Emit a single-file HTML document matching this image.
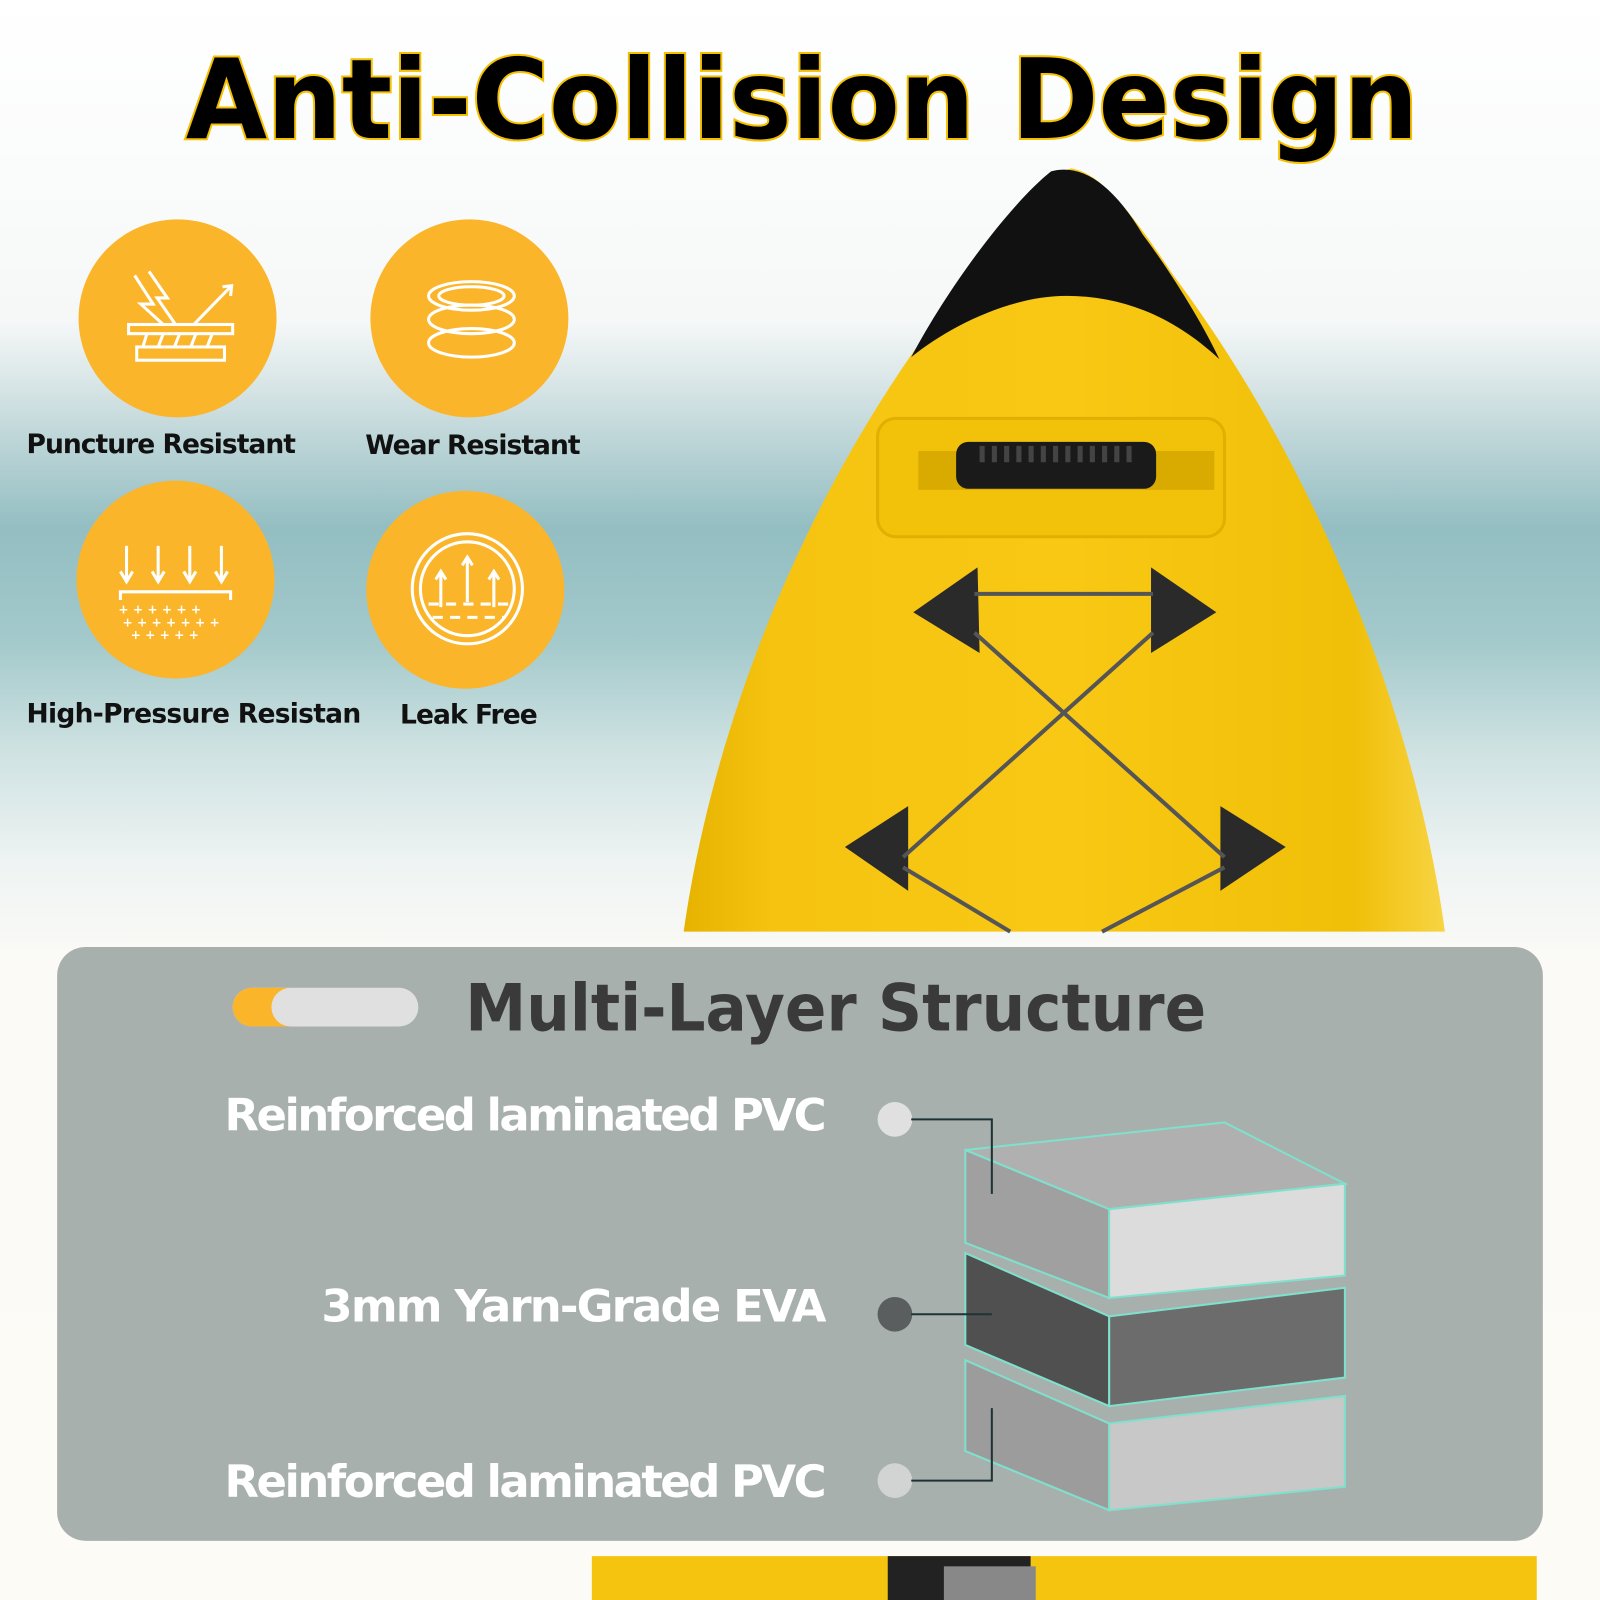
<!DOCTYPE html>
<html><head><meta charset="utf-8"><style>
html,body{margin:0;padding:0;width:1600px;height:1600px;overflow:hidden;background:#fff}
svg{display:block}
text{font-family:"DejaVu Sans","Liberation Sans",sans-serif;font-weight:bold}
</style></head><body>
<svg width="1600" height="1600" viewBox="0 0 1568 1568" xmlns="http://www.w3.org/2000/svg">
<defs>
<linearGradient id="bg" x1="0" y1="0" x2="0" y2="1">
<stop offset="0" stop-color="#ffffff"/>
<stop offset="0.20" stop-color="#f6f8f8"/>
<stop offset="0.26" stop-color="#c9dcde"/>
<stop offset="0.33" stop-color="#93bec2"/>
<stop offset="0.40" stop-color="#a3c9cb"/>
<stop offset="0.47" stop-color="#cfe2e2"/>
<stop offset="0.54" stop-color="#eef4f3"/>
<stop offset="0.60" stop-color="#fbfaf6"/>
<stop offset="1" stop-color="#fdfbf5"/>
</linearGradient>
<linearGradient id="kay" x1="0" y1="0" x2="1" y2="0">
<stop offset="0" stop-color="#e6b400"/>
<stop offset="0.12" stop-color="#f6c410"/>
<stop offset="0.5" stop-color="#f8c814"/>
<stop offset="0.88" stop-color="#f0bf08"/>
<stop offset="1" stop-color="#f7d444"/>
</linearGradient>
</defs>
<rect width="1568" height="1568" fill="url(#bg)"/>
<!-- kayak -->
<path d="M670,913 C700,700 800,450 960,260 C1000,200 1030,170 1050,165 C1080,170 1110,210 1150,270 C1300,470 1390,720 1416,913 Z" fill="url(#kay)"/>
<path d="M893,350 C930,280 990,200 1030,168 C1060,160 1090,180 1120,230 C1150,270 1180,320 1195,352 C1150,310 1100,290 1045,290 C990,290 930,320 893,350 Z" fill="#111"/>
<rect x="860" y="410" width="340" height="116" rx="18" fill="#f2c20a" stroke="#e0b000" stroke-width="3"/>
<rect x="900" y="442" width="290" height="38" fill="#d9aa00"/>
<rect x="937" y="433" width="196" height="46" rx="12" fill="#1a1a1a"/>
<path d="M960,445 L1110,445" stroke="#444" stroke-width="16" stroke-dasharray="5 7"/>
<g fill="#2a2a2a">
<path d="M895,600 L958,556 L960,640 Z"/><path d="M1192,600 L1128,556 L1128,640 Z"/>
<path d="M828,830 L890,790 L890,873 Z"/><path d="M1260,830 L1196,790 L1196,873 Z"/>
</g>
<g stroke="#555" stroke-width="4" fill="none">
<path d="M955,582 L1130,582"/><path d="M955,620 L1200,840 M1130,620 L885,840"/>
<path d="M885,850 L990,913 M1200,850 L1080,913"/>
</g>
<!-- bottom kayak -->
<rect x="580" y="1525" width="926" height="43" fill="#f4c40e"/>
<rect x="870" y="1525" width="140" height="43" fill="#222"/>
<rect x="925" y="1535" width="90" height="33" fill="#888"/>
<!-- title -->
<text x="182" y="135" textLength="1208" lengthAdjust="spacingAndGlyphs" font-size="108" fill="#000" stroke="#f4c000" stroke-width="4" paint-order="stroke">Anti-Collision Design</text>
<!-- circles -->
<g fill="#fbb52b"><circle cx="174" cy="312" r="97"/><circle cx="460" cy="312" r="97"/><circle cx="172" cy="568" r="97"/><circle cx="456" cy="578" r="97"/></g>
<g stroke="#fff" stroke-width="3" fill="none">
<rect x="126" y="318" width="102" height="9"/><rect x="134" y="340" width="86" height="13"/>
<path d="M144,327 L140,340 M160,327 L155,340 M176,327 L171,340 M192,327 L187,340 M208,327 L203,340"/>
<path d="M132,270 L150,298 L138,298 L160,318 M146,266 L164,292 L154,292 L172,318 M190,318 L227,280 M218,281 L227,280 L226,290"/>
<ellipse cx="462" cy="290" rx="42" ry="14"/><ellipse cx="462" cy="290" rx="32" ry="9"/>
<ellipse cx="462" cy="313" rx="42" ry="14"/><ellipse cx="462" cy="336" rx="42" ry="14"/>
<path d="M124,535 L124,568 M155,535 L155,568 M186,535 L186,568 M217,535 L217,568 M118,560 L124,570 L130,560 M149,560 L155,570 L161,560 M180,560 L186,570 L192,560 M211,560 L217,570 L223,560 M118,588 L118,580 L226,580 L226,588"/>
<circle cx="458" cy="577" r="54"/><circle cx="458" cy="577" r="46"/>
<path d="M432,595 L432,562 M458,590 L458,548 M484,595 L484,562 M427,568 L432,560 L437,568 M453,554 L458,546 L463,554 M479,568 L484,560 L489,568" />
<path d="M420,592 L500,592 M424,605 L494,605" stroke-dasharray="10 7"/>
</g>
<g fill="#fff" font-size="12"><text x="116" y="601">+ + + + + +</text><text x="120" y="614">+ + + + + + +</text><text x="128" y="626">+ + + + +</text></g>
<g font-size="26" fill="#111" font-weight="bold" lengthAdjust="spacingAndGlyphs">
<text x="26" y="444" textLength="264">Puncture Resistant</text><text x="358" y="445" textLength="211">Wear Resistant</text>
<text x="26" y="708" textLength="328">High-Pressure Resistan</text><text x="392" y="709" textLength="135">Leak Free</text>
</g>
<!-- panel -->
<rect x="56" y="928" width="1456" height="582" rx="28" fill="#a8b0ae"/>
<rect x="228" y="968" width="182" height="38" rx="19" fill="#e0e0e0"/>
<path d="M247,968 L285,968 A19,19 0 0 0 285,1006 L247,1006 A19,19 0 0 1 247,968 Z" fill="#fbb52b"/>
<text x="456" y="1010" font-size="64" fill="#3a3a3a" textLength="726" lengthAdjust="spacingAndGlyphs">Multi-Layer Structure</text>
<g font-size="44" fill="#fff" lengthAdjust="spacingAndGlyphs">
<text x="220" y="1108" textLength="590">Reinforced laminated PVC</text>
<text x="315" y="1295" textLength="495">3mm Yarn-Grade EVA</text>
<text x="220" y="1467" textLength="590">Reinforced laminated PVC</text>
</g>
<circle cx="877" cy="1097" r="17" fill="#e0e0e0"/><circle cx="877" cy="1288" r="17" fill="#5a5e5e"/><circle cx="877" cy="1451" r="17" fill="#d2d4d4"/>
<!-- stack -->
<g stroke="#7fe0cc" stroke-width="2">
<path d="M946,1333 L1087,1395 L1087,1480 L946,1422 Z" fill="#9c9c9c"/>
<path d="M1087,1395 L1318,1368 L1318,1457 L1087,1480 Z" fill="#c8c8c8"/>
<path d="M946,1228 L1087,1290 L1087,1378 L946,1318 Z" fill="#505050"/>
<path d="M1087,1290 L1318,1262 L1318,1350 L1087,1378 Z" fill="#6c6c6c"/>
<path d="M946,1127 L1200,1100 L1318,1160 L1087,1185 Z" fill="#b0b0b0"/>
<path d="M946,1127 L1087,1185 L1087,1272 L946,1218 Z" fill="#a0a0a0"/>
<path d="M1087,1185 L1318,1160 L1318,1250 L1087,1272 Z" fill="#dcdcdc"/>
</g>
<g stroke="#1e3333" stroke-width="2" fill="none">
<path d="M893,1097 L972,1097 L972,1170"/><path d="M893,1288 L972,1288"/><path d="M972,1380 L972,1451 L893,1451"/>
</g>
</svg>
</body></html>
